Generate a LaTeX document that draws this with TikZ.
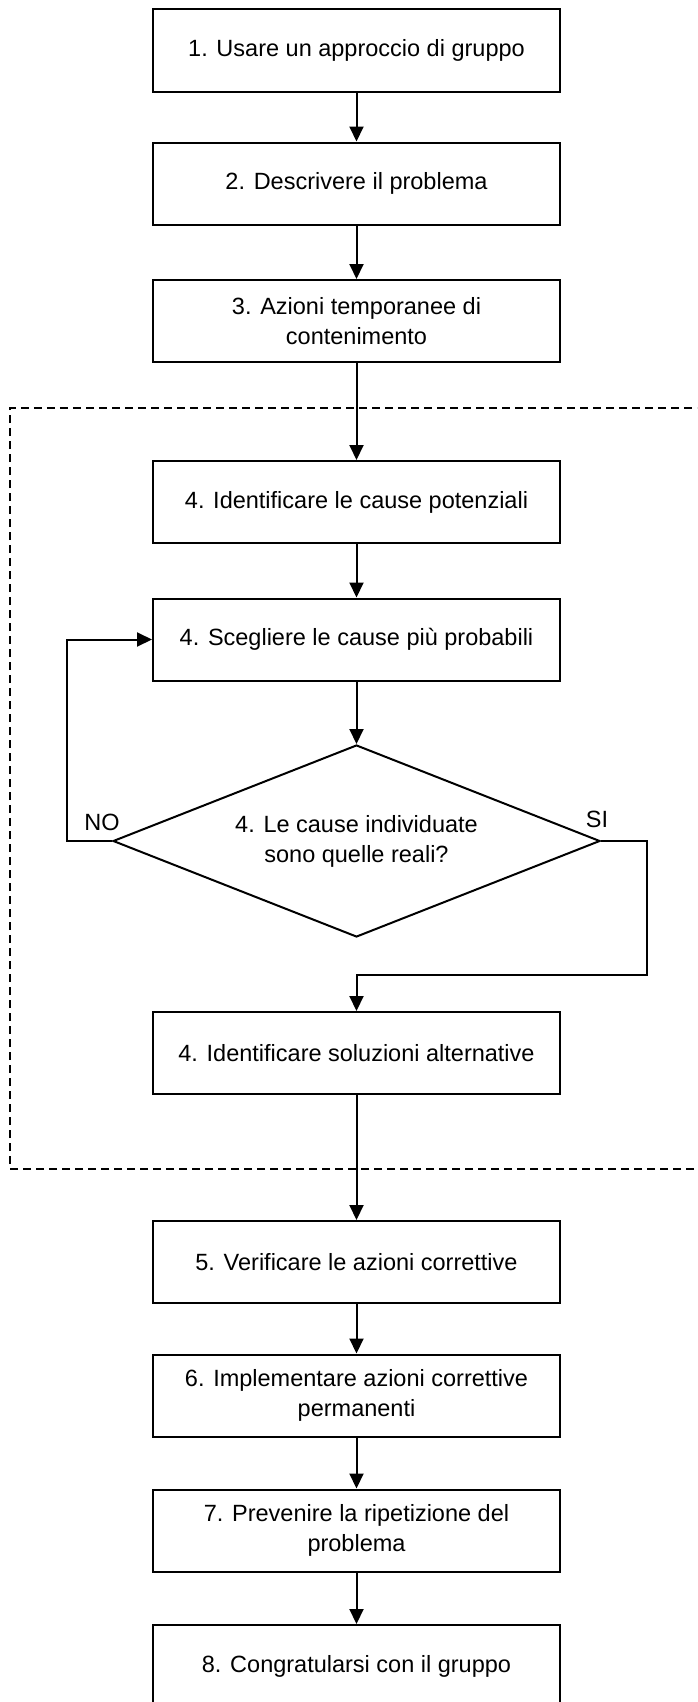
\documentclass[tikz,border=0pt]{standalone}
\usepackage{fontspec}
\setmainfont{Liberation Sans}
\usetikzlibrary{arrows.meta,shapes.geometric}

\begin{document}
\begin{tikzpicture}[x=1pt,y=-1pt,
  line width=2pt,
  stepbox/.style={draw, rectangle, minimum width=407pt, minimum height=82pt,
    inner sep=0pt, align=center, font=\fontsize{23.5}{30}\selectfont},
  decision/.style={draw, diamond, aspect=2.54, minimum width=487pt, minimum height=192pt,
    inner sep=0pt, align=center, font=\fontsize{23.5}{30}\selectfont},
  lbl/.style={font=\fontsize{23.5}{30}\selectfont, inner sep=0pt},
  arr/.style={-{Triangle[width=14pt,length=15pt]}},
  frame/.style={dash pattern=on 8pt off 5pt, line width=1.5pt}]

  % page area
  \useasboundingbox (0,0) rectangle (697,1702);
  \clip (0,0) rectangle (697,1702);

  % steps
  \node[stepbox] (b1)  at (356.5,50.5)   {1. Usare un approccio di gruppo};
  \node[stepbox] (b2)  at (356.5,183.5)  {2. Descrivere il problema};
  \node[stepbox] (b3)  at (356.5,321)    {3. Azioni temporanee di\\contenimento};
  \node[stepbox] (b4a) at (356.5,502)    {4. Identificare le cause potenziali};
  \node[stepbox] (b4b) at (356.5,639.5)  {4. Scegliere le cause più probabili};
  \node[decision] (dia) at (356.5,841)   {4. Le cause individuate\\sono quelle reali?};
  \node[stepbox] (b4c) at (356.5,1053)   {4. Identificare soluzioni alternative};
  \node[stepbox] (b5)  at (356.5,1262)   {5. Verificare le azioni correttive};
  \node[stepbox] (b6)  at (356.5,1395.5) {6. Implementare azioni correttive\\permanenti};
  \node[stepbox] (b7)  at (356.5,1530.5) {7. Prevenire la ripetizione del\\problema};
  \node[stepbox] (b8)  at (356.5,1666)   {8. Congratularsi con il gruppo};

  % branch labels
  \node[lbl] (no) at (102,822) {NO};
  \node[lbl] (si) at (597,819) {SI};

  % dashed frame around step 4
  \draw[frame] (720,1169) -| (10,408) -- (720,408);

  % turning points of the loops
  \coordinate (noturn) at (67,639.5);
  \coordinate (siturn) at (647,975);

  % connectors
  \draw[arr] (b1) -- (b2);
  \draw[arr] (b2) -- (b3);
  \draw[arr] (b3) -- (b4a);
  \draw[arr] (b4a) -- (b4b);
  \draw[arr] (b4b) -- (dia);
  \draw[arr] (dia.west) -| (noturn) -- (b4b.west);
  \draw[arr] (dia.east) -| (siturn) -| (b4c.north);
  \draw[arr] (b4c) -- (b5);
  \draw[arr] (b5) -- (b6);
  \draw[arr] (b6) -- (b7);
  \draw[arr] (b7) -- (b8);
\end{tikzpicture}
\end{document}
